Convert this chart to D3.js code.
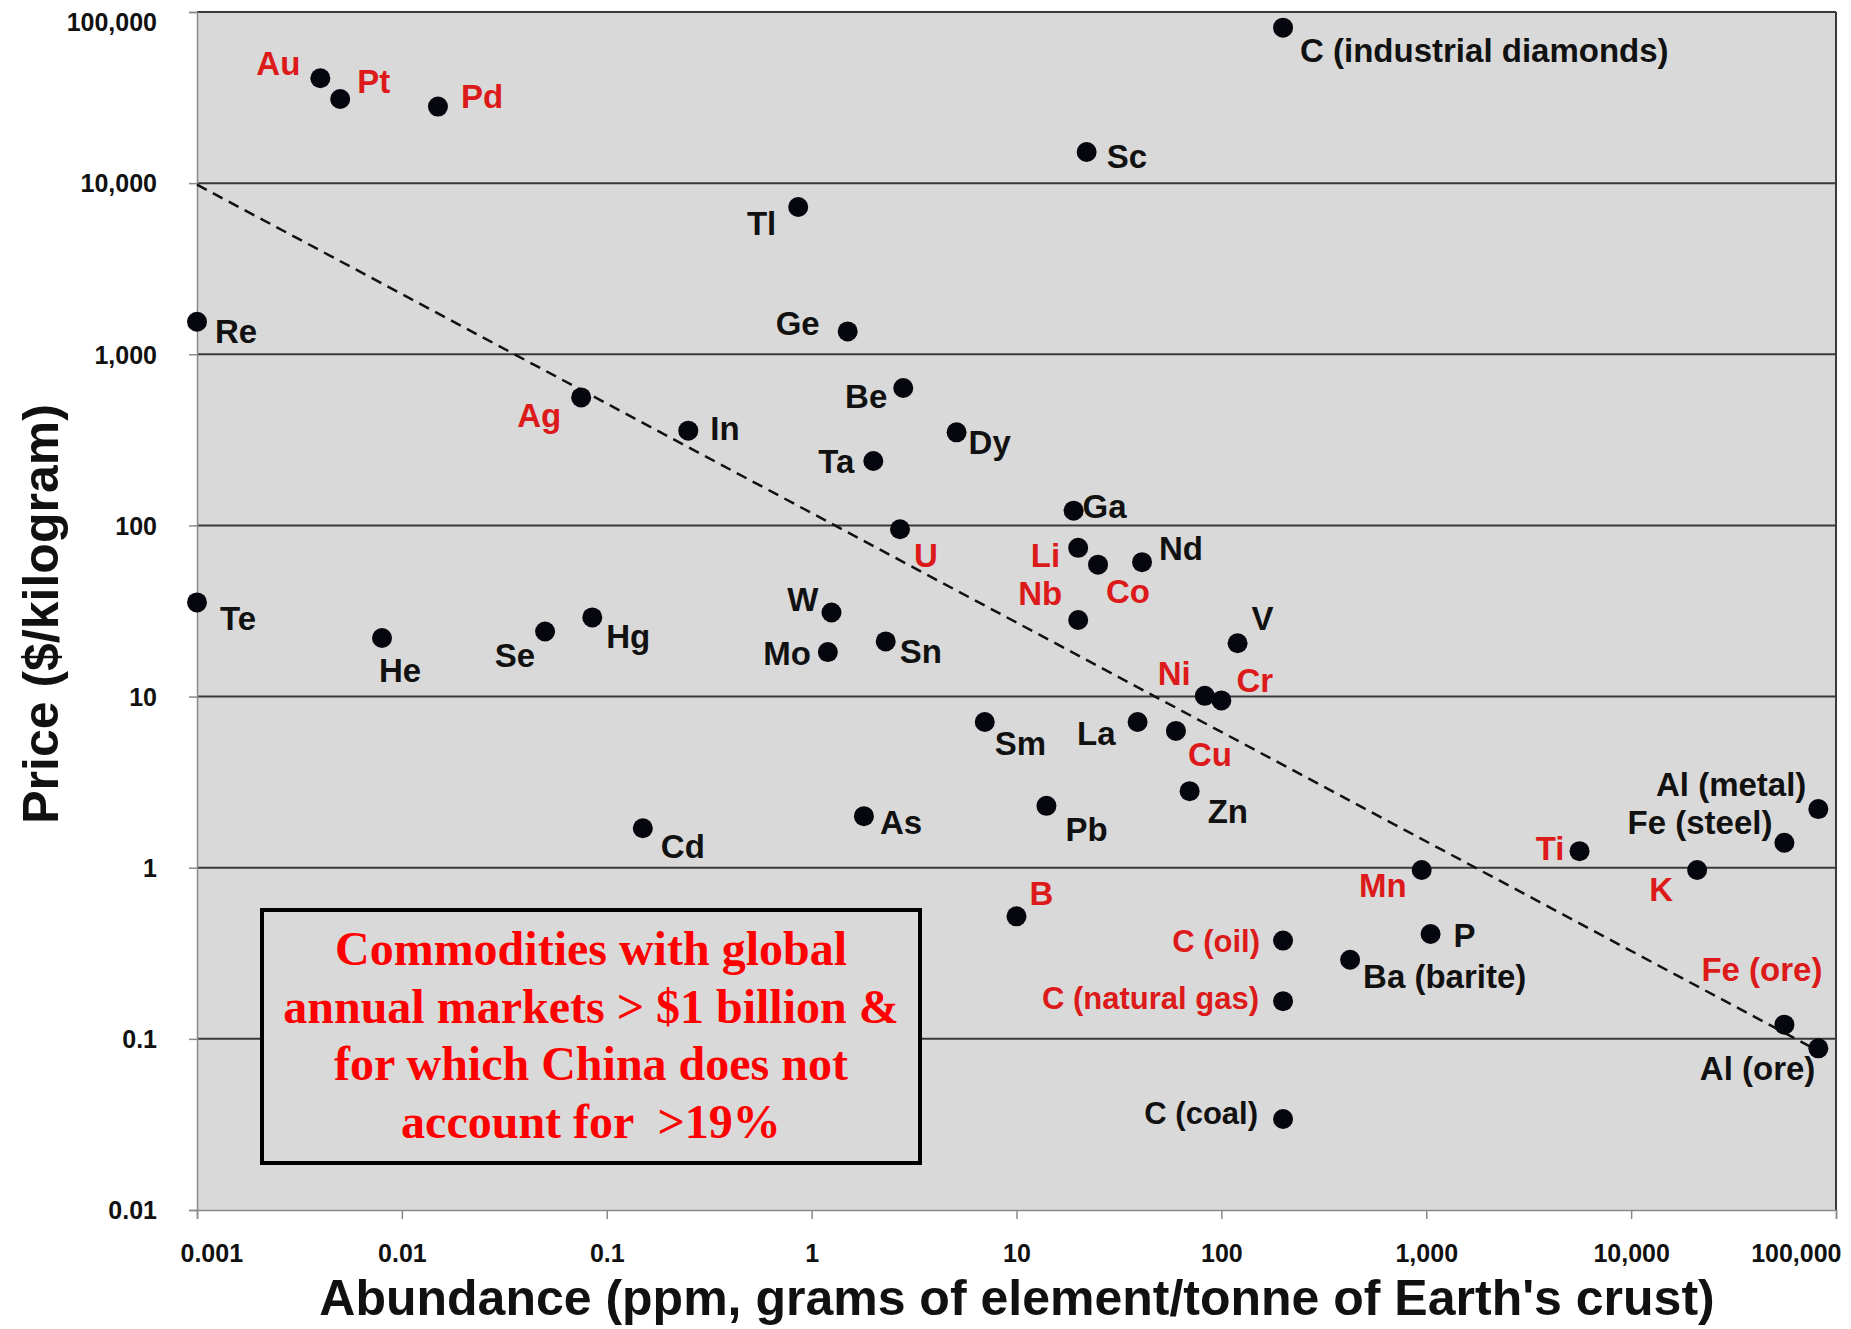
<!DOCTYPE html>
<html>
<head>
<meta charset="utf-8">
<script src="https://cdn.jsdelivr.net/npm/d3@7"></script>
<style>
  html, body { margin: 0; padding: 0; background: #ffffff; }
  svg { display: block; }
</style>
</head>
<body>
<script>
// ---- Data: commodity, crustal abundance (ppm) and price ($/kg) ----
const commodities = [
  "Au", "Pt", "Pd", "Re", "Ag", "C (industrial diamonds)", "Sc", "Tl", "Ge", "Be",
  "In", "Dy", "Ta", "Ga", "U", "Li", "Co", "Nd", "Nb", "W",
  "Mo", "Sn", "Te", "He", "Se", "Hg", "V", "Ni", "Cr", "Sm",
  "La", "Cu", "Zn", "Pb", "As", "Cd", "Al (metal)", "Fe (steel)", "Ti", "Mn",
  "K", "B", "C (oil)", "P", "Ba (barite)", "C (natural gas)", "Fe (ore)", "Al (ore)", "C (coal)"
];
const abundance = [
  0.004, 0.005, 0.015, 0.001, 0.075, 200, 22, 0.86, 1.5, 2.8,
  0.25, 5.1, 2.0, 19, 2.7, 20, 25, 41, 20, 1.25,
  1.2, 2.3, 0.001, 0.008, 0.05, 0.085, 120, 83, 100, 7,
  39, 60, 70, 14, 1.8, 0.15, 82000, 56000, 5600, 950,
  21000, 10, 200, 1050, 425, 200, 56000, 82000, 200
];
const price = [
  41000, 31000, 28000, 1550, 560, 81000, 15200, 7250, 1360, 635,
  358, 350, 238, 122, 95, 74, 59, 61, 28, 31,
  18.2, 21, 35.5, 22, 24, 29, 20.5, 10.1, 9.5, 7.1,
  7.1, 6.3, 2.8, 2.3, 2.0, 1.7, 2.2, 1.4, 1.25, 0.97,
  0.97, 0.52, 0.375, 0.41, 0.29, 0.166, 0.121, 0.088, 0.034
];
// Commodities with global annual markets > $1 billion where China's share is not > 19%
const highlighted = [
  "Au", "Pt", "Pd", "Ag", "U", "Li", "Co", "Nb", "Ni", "Cr", "Cu",
  "Ti", "Mn", "K", "B", "C (oil)", "C (natural gas)", "Fe (ore)"
];

// Trend line end points (abundance, price)
const trendAbundance = [0.001, 82000];
const trendPrice = [9800, 0.085];

// Axis ticks
const xTickValues = [0.001, 0.01, 0.1, 1, 10, 100, 1000, 10000, 100000];
const xTickLabels = ["0.001", "0.01", "0.1", "1", "10", "100", "1,000", "10,000", "100,000"];
const yTickValues = [0.01, 0.1, 1, 10, 100, 1000, 10000, 100000];
const yTickLabels = ["0.01", "0.1", "1", "10", "100", "1,000", "10,000", "100,000"];

const noteLines = [
  "Commodities with global",
  "annual markets > $1 billion &",
  "for which China does not",
  "account for  >19%"
];

// ---- Label placement around each dot: [dx, dy, anchor] ----
const labelPlacement = {
  "Au": [-20, -3, "end"], "Pt": [17, -6, "start"], "Pd": [23, 1, "start"],
  "Re": [18, 21, "start"], "Ag": [-20, 30, "end"],
  "C (industrial diamonds)": [17, 34, "start"], "Sc": [20, 16, "start"],
  "Tl": [-22, 28, "end"], "Ge": [-28, 4, "end"], "Be": [-16, 20, "end"],
  "In": [22, 9, "start"], "Dy": [12, 22, "start"], "Ta": [-19, 12, "end"],
  "Ga": [9, 7, "start"], "U": [14, 38, "start"], "Li": [-18, 19, "end"],
  "Co": [8, 38, "start"], "Nd": [17, -2, "start"], "Nb": [-16, -15, "end"],
  "W": [-13, -1, "end"], "Mo": [-17, 13, "end"], "Sn": [14, 22, "start"],
  "Te": [23, 28, "start"], "He": [-3, 44, "start"], "Se": [-10, 35, "end"],
  "Hg": [14, 31, "start"], "V": [14, -13, "start"], "Ni": [-14, -11, "end"],
  "Cr": [15, -8, "start"], "Sm": [10, 33, "start"], "La": [-22, 23, "end"],
  "Cu": [12, 35, "start"], "Zn": [18, 32, "start"], "Pb": [19, 35, "start"],
  "As": [16, 18, "start"], "Cd": [18, 30, "start"],
  "Al (metal)": [-12, -13, "end"], "Fe (steel)": [-12, -9, "end"],
  "Ti": [-15, 9, "end"], "Mn": [-15, 27, "end"], "K": [-24, 31, "end"],
  "B": [13, -11, "start"], "C (oil)": [-23, 11, "end"], "P": [23, 13, "start"],
  "Ba (barite)": [13, 28, "start"], "C (natural gas)": [-24, 8, "end"],
  "Fe (ore)": [38, -44, "end"], "Al (ore)": [-3, 32, "end"], "C (coal)": [-25, 5, "end"]
};

// ---- Layout ----
const W = 1851, H = 1329;
const plot = { left: 197, right: 1836, top: 12, bottom: 1210 };
const SANS = "'Liberation Sans', Arial, Helvetica, sans-serif";
const SERIF = "'Liberation Serif', 'Times New Roman', Times, serif";
const RED = "#dd1a1a";
const INK = "#111111";

const svg = d3.select("body").append("svg")
  .attr("width", W).attr("height", H)
  .attr("viewBox", `0 0 ${W} ${H}`);

const x = d3.scaleLog().domain([0.001, 100000]).range([plot.left, plot.right]);
const y = d3.scaleLog().domain([0.01, 100000]).range([plot.bottom, plot.top]);

// Plot background
svg.append("rect")
  .attr("x", plot.left).attr("y", plot.top)
  .attr("width", plot.right - plot.left).attr("height", plot.bottom - plot.top)
  .attr("fill", "#d9d9d9");

// Horizontal gridlines (every decade above the bottom axis)
svg.append("g")
  .selectAll("line")
  .data(yTickValues.slice(1))
  .join("line")
  .attr("x1", plot.left).attr("x2", plot.right)
  .attr("y1", d => y(d)).attr("y2", d => y(d))
  .attr("stroke", "#3a3a3a").attr("stroke-width", 2);

// Right frame edge
svg.append("line")
  .attr("x1", plot.right).attr("x2", plot.right)
  .attr("y1", plot.top).attr("y2", plot.bottom)
  .attr("stroke", "#3a3a3a").attr("stroke-width", 2);

// Y axis
const yAxis = d3.axisLeft(y)
  .tickValues(yTickValues)
  .tickFormat((d, i) => yTickLabels[i])
  .tickSize(8)
  .tickPadding(32);
const gy = svg.append("g")
  .attr("transform", `translate(${plot.left},0)`)
  .call(yAxis);
gy.select(".domain").attr("stroke", "#8a8a8a").attr("stroke-width", 1.5);
gy.selectAll(".tick line").attr("stroke", "#8a8a8a").attr("stroke-width", 1.5);
gy.selectAll(".tick text")
  .attr("font-family", SANS).attr("font-weight", "bold")
  .attr("font-size", 25).attr("fill", INK)
  .attr("dy", (d, i) => i === yTickValues.length - 1 ? "0.75em" : "0.35em");

// X axis
const xAxis = d3.axisBottom(x)
  .tickValues(xTickValues)
  .tickFormat((d, i) => xTickLabels[i])
  .tickSize(9)
  .tickPadding(25);
const gx = svg.append("g")
  .attr("transform", `translate(0,${plot.bottom})`)
  .call(xAxis);
gx.select(".domain").attr("stroke", "#8a8a8a").attr("stroke-width", 1.5);
gx.selectAll(".tick line").attr("stroke", "#8a8a8a").attr("stroke-width", 1.5);
gx.selectAll(".tick text")
  .attr("font-family", SANS).attr("font-weight", "bold")
  .attr("font-size", 25).attr("fill", INK)
  .each(function (d, i) {
    // keep the outermost labels inside the frame
    const t = d3.select(this);
    if (i === 0) t.attr("text-anchor", "start").attr("x", -17);
    if (i === xTickValues.length - 1) t.attr("text-anchor", "end").attr("x", 5);
  });

// Trend line
svg.append("path")
  .datum(d3.zip(trendAbundance, trendPrice))
  .attr("d", d3.line().x(d => x(d[0])).y(d => y(d[1])))
  .attr("fill", "none")
  .attr("stroke", "#111")
  .attr("stroke-width", 2.5)
  .attr("stroke-dasharray", "11,7");

// Note box
const box = svg.append("g");
box.append("rect")
  .attr("x", 262).attr("y", 910).attr("width", 658).attr("height", 253)
  .attr("fill", "#d9d9d9").attr("stroke", "#000").attr("stroke-width", 4);
box.selectAll("text")
  .data(noteLines)
  .join("text")
  .attr("x", 591)
  .attr("y", (d, i) => 965 + i * 57.7)
  .attr("text-anchor", "middle")
  .attr("font-family", SERIF).attr("font-weight", "bold")
  .attr("font-size", 48).attr("fill", "#ff0000")
  .style("white-space", "pre")
  .text(d => d);

// Points
const rows = commodities.map((name, i) => ({
  name, abundance: abundance[i], price: price[i], red: highlighted.includes(name)
}));

svg.append("g")
  .selectAll("circle")
  .data(rows)
  .join("circle")
  .attr("cx", d => x(d.abundance))
  .attr("cy", d => y(d.price))
  .attr("r", 10)
  .attr("fill", "#06060f");

// Point labels
svg.append("g")
  .selectAll("text")
  .data(rows)
  .join("text")
  .attr("x", d => x(d.abundance) + labelPlacement[d.name][0])
  .attr("y", d => y(d.price) + labelPlacement[d.name][1])
  .attr("text-anchor", d => labelPlacement[d.name][2])
  .attr("font-family", SANS).attr("font-weight", "bold")
  .attr("font-size", d => d.name.startsWith("C (") && d.name !== "C (industrial diamonds)" ? 31 : 33)
  .attr("fill", d => d.red ? RED : INK)
  .text(d => d.name);

// Axis titles
svg.append("text")
  .attr("transform", "translate(58,614) rotate(-90)")
  .attr("text-anchor", "middle")
  .attr("font-family", SANS).attr("font-weight", "bold")
  .attr("font-size", 50).attr("fill", INK)
  .text("Price ($/kilogram)");

svg.append("text")
  .attr("x", 1017).attr("y", 1315)
  .attr("text-anchor", "middle")
  .attr("font-family", SANS).attr("font-weight", "bold")
  .attr("font-size", 50).attr("fill", INK)
  .text("Abundance (ppm, grams of element/tonne of Earth's crust)");
</script>
</body>
</html>
